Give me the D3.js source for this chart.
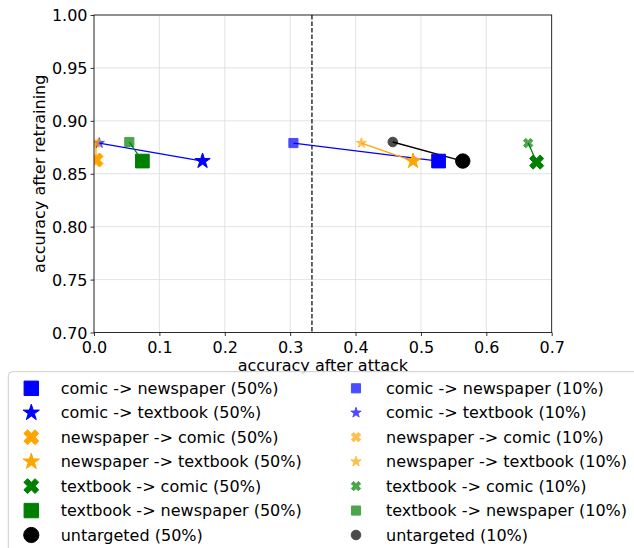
<!DOCTYPE html>
<html><head><meta charset="utf-8">
<script src="https://cdn.jsdelivr.net/npm/d3@7"></script>
<style>body{margin:0;background:#fff}svg{display:block}text{font-family:"DejaVu Sans",sans-serif;fill:#000}</style>
</head><body><svg id="c" width="634" height="548"></svg>
<script>
const categories = ["comic -> newspaper","comic -> textbook","newspaper -> comic","newspaper -> textbook","textbook -> comic","textbook -> newspaper","untargeted"];
const colors = ["blue","blue","orange","orange","green","green","black"];
const markers = ["square","star","x","star","x","square","circle"];
const attack50 = [0.527,0.166,0.003,0.488,0.677,0.074,0.564];
const retrain50 = [0.862,0.862,0.863,0.862,0.861,0.862,0.862];
const attack10 = [0.305,0.008,0.003,0.409,0.664,0.054,0.457];
const retrain10 = [0.879,0.879,0.879,0.879,0.879,0.880,0.880];
const xTicks = [0,0.1,0.2,0.3,0.4,0.5,0.6,0.7];
const yTicks = [0.70,0.75,0.80,0.85,0.90,0.95,1.00];
const chance = 1/3;

const svg = d3.select("#c");
const L=94, R=551.7, T=15, B=332.5;
const x = d3.scaleLinear().domain([0,0.7]).range([L,R]);
const y = d3.scaleLinear().domain([0.7,1.0]).range([B,T]);

function markerPath(type, s){ // s = half size
  if(type==="square") return `M${-s},${-s}H${s}V${s}H${-s}Z`;
  if(type==="circle") return `M${s},0A${s},${s} 0 1,1 ${-s},0A${s},${s} 0 1,1 ${s},0Z`;
  if(type==="star"){
    const ri = s*0.381966; let p="";
    for(let i=0;i<10;i++){const r=i%2?ri:s; const a=-Math.PI/2+i*Math.PI/5; p+=(i?"L":"M")+(r*Math.cos(a)).toFixed(2)+","+(r*Math.sin(a)).toFixed(2);}
    return p+"Z";
  }
  if(type==="x"){
    const u=s/1.414;
    const pts=[[-0.5,-1.5],[0.5,-1.5],[0.5,-0.5],[1.5,-0.5],[1.5,0.5],[0.5,0.5],[0.5,1.5],[-0.5,1.5],[-0.5,0.5],[-1.5,0.5],[-1.5,-0.5],[-0.5,-0.5]];
    const c=Math.SQRT1_2;
    return "M"+pts.map(([a,b])=>[((a-b)*c*u).toFixed(2),((a+b)*c*u).toFixed(2)].join(",")).join("L")+"Z";
  }
}
const sizeScale = {square:0.95,circle:1,star:1.12,x:0.98};

// grid
const g = svg.append("g");
g.selectAll(".gx").data(xTicks).join("line").attr("x1",d=>x(d)).attr("x2",d=>x(d)).attr("y1",T).attr("y2",B).attr("stroke","#dcdcdc").attr("stroke-width",0.8);
g.selectAll(".gy").data(yTicks).join("line").attr("y1",d=>y(d)).attr("y2",d=>y(d)).attr("x1",L).attr("x2",R).attr("stroke","#dcdcdc").attr("stroke-width",0.8);

// dashed line
svg.append("line").attr("x1",x(chance)).attr("x2",x(chance)).attr("y1",T).attr("y2",B).attr("stroke","#000").attr("stroke-width",1.2).attr("stroke-dasharray","4.5,2");

// clip
svg.append("clipPath").attr("id","clip").append("rect").attr("x",L).attr("y",T).attr("width",R-L).attr("height",B-T);
const plot = svg.append("g").attr("clip-path","url(#clip)");

categories.forEach((c,i)=>{
  plot.append("line").attr("x1",x(attack10[i])).attr("y1",y(retrain10[i])).attr("x2",x(attack50[i])).attr("y2",y(retrain50[i])).attr("stroke",colors[i]).attr("stroke-width",1.3);
});
categories.forEach((c,i)=>{
  plot.append("path").attr("d",markerPath(markers[i],7.2*sizeScale[markers[i]])).attr("transform",`translate(${x(attack50[i])},${y(retrain50[i])})`).attr("fill",colors[i]).attr("stroke",colors[i]).attr("stroke-width",1).attr("stroke-linejoin","round");
  plot.append("path").attr("d",markerPath(markers[i],4.8*sizeScale[markers[i]])).attr("transform",`translate(${x(attack10[i])},${y(retrain10[i])})`).attr("fill",colors[i]).attr("stroke",colors[i]).attr("stroke-width",1).attr("stroke-linejoin","round").attr("opacity",0.7);
});

// axes
const xa = svg.append("g").attr("transform",`translate(0,${B})`).call(d3.axisBottom(x).tickValues(xTicks).tickFormat(d3.format(".1f")).tickSize(3.5).tickSizeOuter(0));
const ya = svg.append("g").attr("transform",`translate(${L},0)`).call(d3.axisLeft(y).tickValues(yTicks).tickFormat(d3.format(".2f")).tickSize(3.5).tickSizeOuter(0));
[xa,ya].forEach(a=>{a.select(".domain").remove();a.selectAll("text").attr("font-size",16).attr("font-family","DejaVu Sans").attr("fill","#000");a.selectAll("line").attr("stroke","#000").attr("stroke-width",0.8);});
xa.selectAll("text").attr("dy","0.95em").attr("y",5);
ya.selectAll("text").attr("x",-6.5).attr("dy","0.35em");
svg.append("rect").attr("x",L).attr("y",T).attr("width",R-L).attr("height",B-T).attr("fill","none").attr("stroke","#000").attr("stroke-width",0.8);

svg.append("text").attr("x",(L+R)/2).attr("y",371).attr("text-anchor","middle").attr("font-size",16).text("accuracy after attack");
svg.append("text").attr("transform",`translate(45,${(T+B)/2}) rotate(-90)`).attr("text-anchor","middle").attr("font-size",16).text("accuracy after retraining");

// legend
const lg = svg.append("g");
lg.append("rect").attr("x",8.3).attr("y",371.7).attr("width",700).attr("height",250).attr("rx",4).attr("fill","#fff").attr("fill-opacity",0.85).attr("stroke","#cccccc").attr("stroke-width",1);
const rowY = i=>388.3+i*24.45;
categories.forEach((c,i)=>{
  lg.append("path").attr("d",markerPath(markers[i],7.6*sizeScale[markers[i]])).attr("transform",`translate(31.3,${rowY(i)})`).attr("fill",colors[i]).attr("stroke",colors[i]).attr("stroke-linejoin","round");
  lg.append("text").attr("x",60.7).attr("y",rowY(i)).attr("dy","0.35em").attr("font-size",16).text(c+" (50%)");
  lg.append("path").attr("d",markerPath(markers[i],4.8*sizeScale[markers[i]])).attr("transform",`translate(356,${rowY(i)})`).attr("fill",colors[i]).attr("stroke",colors[i]).attr("stroke-linejoin","round").attr("opacity",0.7);
  lg.append("text").attr("x",386).attr("y",rowY(i)).attr("dy","0.35em").attr("font-size",16).text(c+" (10%)");
});
</script></body></html>
